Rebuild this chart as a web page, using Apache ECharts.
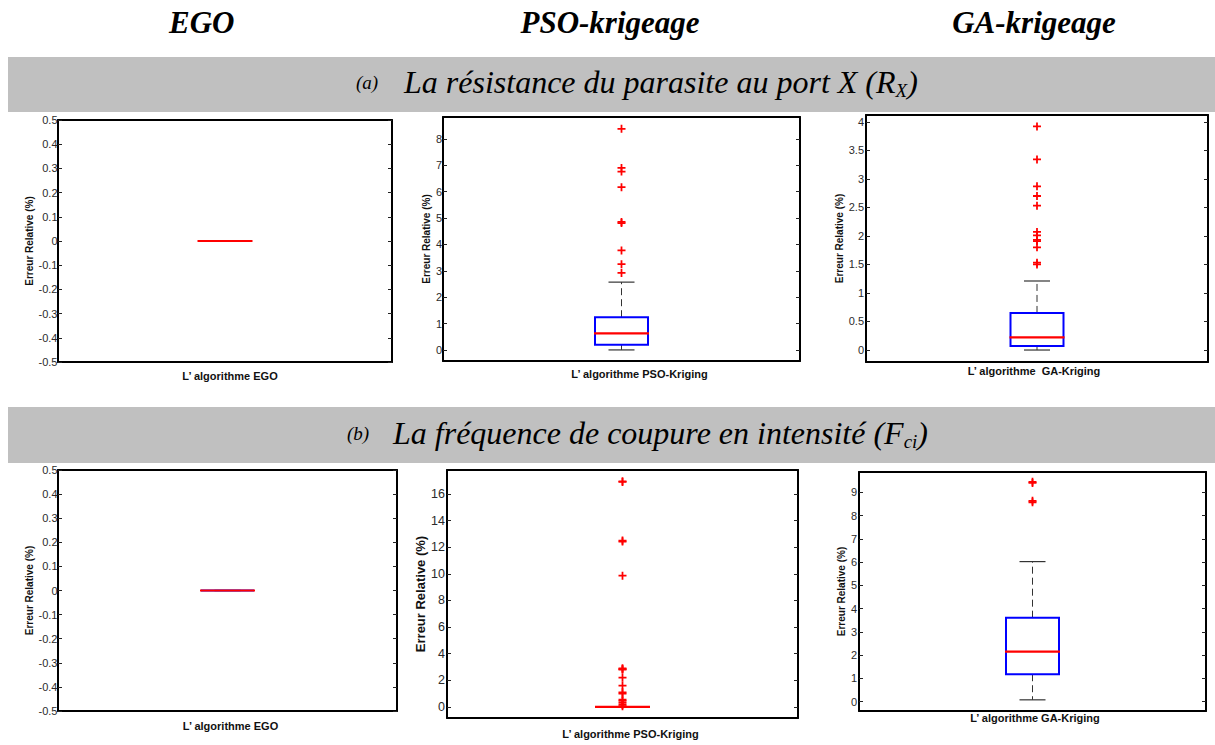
<!DOCTYPE html>
<html>
<head>
<meta charset="utf-8">
<title>Erreur relative – EGO, PSO-krigeage, GA-krigeage</title>
<script src="https://cdn.jsdelivr.net/npm/echarts@6/dist/echarts.min.js"></script>
<style>
  html, body { margin: 0; padding: 0; background: #fff; }
  #chart { width: 1215px; height: 745px; }
</style>
</head>
<body>
<div id="chart"></div>
<script>
// ---- Data -----------------------------------------------------------------
// Box statistics: [lower whisker, Q1, median, Q3, upper whisker] in %
const methods = ['EGO', 'PSO-krigeage', 'GA-krigeage'];
const xNames = ['L\u2019 algorithme EGO', 'L\u2019 algorithme PSO-Kriging', 'L\u2019 algorithme  GA-Kriging', 'L\u2019 algorithme GA-Kriging'];

// (a) resistance of the parasite at port X (Rx)
const rxEgoBox = [0, 0, 0, 0, 0];
const rxEgoOutliers = [];
const rxPsoBox = [0, 0.2, 0.63, 1.24, 2.57];
const rxPsoOutliers = [8.38, 6.9, 6.76, 6.17, 4.85, 4.81, 3.77, 3.25, 2.92];
const rxGaBox = [0, 0.07, 0.22, 0.65, 1.21];
const rxGaOutliers = [3.92, 3.34, 2.87, 2.70, 2.53, 2.07, 2.01, 1.93, 1.91, 1.80, 1.53, 1.50];

// (b) current cut-off frequency (Fci)
const fciEgoBox = [0, 0, 0, 0, 0];
const fciEgoOutliers = [];
const fciPsoBox = [0, 0, 0, 0, 0];
const fciPsoOutliers = [16.95, 16.9, 12.5, 12.42, 9.86, 2.9, 2.85, 2.8, 2.2, 1.6, 1.1, 1.0, 0.55, 0.45, 0.3, 0.15, 0.05];
const fciGaBox = [0.08, 1.18, 2.15, 3.61, 6.02];
const fciGaOutliers = [9.45, 9.40, 8.63, 8.57];

// Axis ranges and tick values
const egoRange = [-0.5, 0.5];
const egoTicks = [-0.5, -0.4, -0.3, -0.2, -0.1, 0, 0.1, 0.2, 0.3, 0.4, 0.5];
const rxPsoRange = [-0.42, 8.83];
const rxPsoTicks = [0, 1, 2, 3, 4, 5, 6, 7, 8];
const rxGaRange = [-0.21, 4.12];
const rxGaTicks = [0, 0.5, 1, 1.5, 2, 2.5, 3, 3.5, 4];
const fciPsoRange = [-0.83, 17.8];
const fciPsoTicks = [0, 2, 4, 6, 8, 10, 12, 14, 16];
const fciGaRange = [-0.4, 9.87];
const fciGaTicks = [0, 1, 2, 3, 4, 5, 6, 7, 8, 9];

const yName = 'Erreur Relative (%)';

// ---- Layout of the six panels ---------------------------------------------
const panels = [
  { rect: [58, 120, 334, 242], cat: methods[0], box: rxEgoBox, out: rxEgoOutliers, range: egoRange, ticks: egoTicks,
    xName: xNames[0], xGap: 8.5, xShift: 5, yGap: 21, yFont: 10, lblFont: 11, lblMargin: 0.5 },
  { rect: [443, 117, 357, 244], cat: methods[1], box: rxPsoBox, out: rxPsoOutliers, range: rxPsoRange, ticks: rxPsoTicks,
    xName: xNames[1], xGap: 7.5, xShift: 18, yGap: 11, yFont: 10, lblFont: 11, lblMargin: 1 },
  { rect: [866, 115, 342, 247], cat: methods[2], box: rxGaBox, out: rxGaOutliers, range: rxGaRange, ticks: rxGaTicks,
    xName: xNames[2], xGap: 3, xShift: -3, yGap: 18, yFont: 10, lblFont: 11, lblMargin: 2 },
  { rect: [58, 470, 339, 241], cat: methods[0], box: fciEgoBox, out: fciEgoOutliers, range: egoRange, ticks: egoTicks,
    xName: xNames[0], xGap: 9, xShift: 3, yGap: 21, yFont: 10, lblFont: 11, lblMargin: 0.5 },
  { rect: [447, 470, 351, 248], cat: methods[1], box: fciPsoBox, out: fciPsoOutliers, range: fciPsoRange, ticks: fciPsoTicks,
    xName: xNames[1], xGap: 10.5, xShift: 8, yGap: 13.5, yFont: 13, lblFont: 12.5, lblMargin: 2 },
  { rect: [859, 472, 347, 239], cat: methods[2], box: fciGaBox, out: fciGaOutliers, range: fciGaRange, ticks: fciGaTicks,
    xName: xNames[3], xGap: 1, xShift: 2.5, yGap: 11, yFont: 10, lblFont: 11, lblMargin: 2 }
];

const SANS = '"Liberation Sans", Arial, sans-serif';
const SERIF = '"Liberation Serif", "Times New Roman", serif';
const BOX_HALF = 26.5;
const CAP_HALF = 13;
const PLUS = 'path://M3.9,0h2.2v3.9h3.9v2.2h-3.9v3.9h-2.2v-3.9h-3.9v-2.2h3.9z';

// MATLAB-style box: dashed whiskers, black caps, blue box, red median
function renderBox(params, api) {
  const c = api.value(0);
  const low = api.coord([c, api.value(1)]);
  const q1 = api.coord([c, api.value(2)]);
  const med = api.coord([c, api.value(3)]);
  const q3 = api.coord([c, api.value(4)]);
  const high = api.coord([c, api.value(5)]);
  const x = med[0];
  const dark = '#333';
  return {
    type: 'group',
    children: [
      { type: 'line', shape: { x1: x, y1: q3[1], x2: x, y2: high[1] },
        style: { stroke: dark, lineWidth: 1, lineDash: [7, 4] } },
      { type: 'line', shape: { x1: x, y1: q1[1], x2: x, y2: low[1] },
        style: { stroke: dark, lineWidth: 1, lineDash: [7, 4] } },
      { type: 'line', shape: { x1: x - CAP_HALF, y1: high[1], x2: x + CAP_HALF, y2: high[1] },
        style: { stroke: dark, lineWidth: 1.2 } },
      { type: 'line', shape: { x1: x - CAP_HALF, y1: low[1], x2: x + CAP_HALF, y2: low[1] },
        style: { stroke: dark, lineWidth: 1.2 } },
      { type: 'rect', shape: { x: x - BOX_HALF, y: q3[1], width: 2 * BOX_HALF, height: q1[1] - q3[1] },
        style: { stroke: '#0000ff', fill: 'none', lineWidth: 2 } },
      { type: 'line', shape: { x1: x - BOX_HALF - 1, y1: med[1], x2: x + BOX_HALF + 1, y2: med[1] },
        style: { stroke: '#ff0000', lineWidth: 2.2 } }
    ]
  };
}

const grid = [], xAxis = [], yAxis = [], series = [];
panels.forEach((p, i) => {
  const [left, top, width, height] = p.rect;
  grid.push({ left, top, width, height, containLabel: false });
  const axisLine = { show: true, onZero: false, lineStyle: { color: '#000', width: 2 } };
  const tickStyle = { color: '#222', width: 1 };
  const pad = p.xShift >= 0 ? [0, 0, 0, 2 * p.xShift] : [0, -2 * p.xShift, 0, 0];
  // bottom and top category axes (one box per panel)
  xAxis.push({
    type: 'category', gridIndex: i, position: 'bottom', data: [p.cat],
    axisLine, axisTick: { inside: true, length: 4, alignWithLabel: true, lineStyle: tickStyle },
    axisLabel: { show: false }, splitLine: { show: false },
    name: p.xName, nameLocation: 'middle', nameGap: p.xGap,
    nameTextStyle: { fontFamily: SANS, fontWeight: 'bold', fontSize: 11, color: '#111', padding: pad }
  });
  xAxis.push({
    type: 'category', gridIndex: i, position: 'top', data: [p.cat],
    axisLine, axisTick: { inside: true, length: 4, alignWithLabel: true, lineStyle: tickStyle },
    axisLabel: { show: false }, splitLine: { show: false }
  });
  // left (labelled) and right (ticks only) value axes
  yAxis.push({
    type: 'value', gridIndex: i, position: 'left', min: p.range[0], max: p.range[1],
    axisLine, axisTick: { show: true, inside: true, length: 4, customValues: p.ticks, lineStyle: tickStyle },
    axisLabel: { show: true, customValues: p.ticks, formatter: v => String(v), margin: p.lblMargin,
      fontFamily: SANS, fontSize: p.lblFont, color: '#2b2b2b' },
    splitLine: { show: false },
    name: yName, nameLocation: 'middle', nameGap: p.yGap,
    nameTextStyle: { fontFamily: SANS, fontWeight: 'bold', fontSize: p.yFont, color: '#111' }
  });
  yAxis.push({
    type: 'value', gridIndex: i, position: 'right', min: p.range[0], max: p.range[1],
    axisLine, axisTick: { show: true, inside: true, length: 4, customValues: p.ticks, lineStyle: tickStyle },
    axisLabel: { show: false }, splitLine: { show: false }
  });
  series.push({
    type: 'custom', name: p.cat, xAxisIndex: 2 * i, yAxisIndex: 2 * i,
    renderItem: renderBox, encode: { x: 0, y: [1, 2, 3, 4, 5] },
    data: [[0].concat(p.box)], z: 2, silent: true
  });
  series.push({
    type: 'scatter', name: p.cat + ' outliers', xAxisIndex: 2 * i, yAxisIndex: 2 * i,
    symbol: PLUS, symbolSize: 8, itemStyle: { color: '#ff0000', opacity: 1 },
    data: p.out.map(v => [0, v]), z: 3, silent: true
  });
});

// Column headers and section bands
const headerFont = 'italic bold 31px ' + SERIF;
const bandFont = 'italic 32px ' + SERIF;
const subFont = 'italic 19px ' + SERIF;
const tagFont = 'italic 19px ' + SERIF;
const bandRich = {
  m: { font: bandFont, fill: '#000', lineHeight: 36 },
  s: { font: subFont, fill: '#000', lineHeight: 22, verticalAlign: 'bottom' }
};
const graphic = [
  { type: 'text', left: 204 - 35, top: 7, style: { text: methods[0], font: headerFont, fill: '#000' } },
  { type: 'text', x: 610, y: 22, style: { text: methods[1], font: headerFont, fill: '#000', align: 'center', verticalAlign: 'middle' } },
  { type: 'text', x: 1034, y: 22, style: { text: methods[2], font: headerFont, fill: '#000', align: 'center', verticalAlign: 'middle' } },
  { type: 'rect', shape: { x: 8, y: 57, width: 1207, height: 55 }, style: { fill: '#c0c0c0' }, z: -1 },
  { type: 'rect', shape: { x: 8, y: 407, width: 1207, height: 56 }, style: { fill: '#c0c0c0' }, z: -1 },
  { type: 'text', x: 356, y: 82, style: { text: '(a)', font: tagFont, fill: '#000', align: 'left', verticalAlign: 'middle' } },
  { type: 'text', x: 404, y: 82, style: { text: '{m|La résistance du parasite au port X (R}{s|X}{m|)}', rich: bandRich, align: 'left', verticalAlign: 'middle' } },
  { type: 'text', x: 347, y: 433, style: { text: '(b)', font: tagFont, fill: '#000', align: 'left', verticalAlign: 'middle' } },
  { type: 'text', x: 393, y: 433, style: { text: '{m|La fréquence de coupure en intensité (F}{s|ci}{m|)}', rich: bandRich, align: 'left', verticalAlign: 'middle' } }
];

const chart = echarts.init(document.getElementById('chart'), null, { renderer: 'svg', width: 1215, height: 745 });
chart.setOption({
  animation: false,
  backgroundColor: '#fff',
  graphic, grid, xAxis, yAxis, series
});
</script>
</body>
</html>
